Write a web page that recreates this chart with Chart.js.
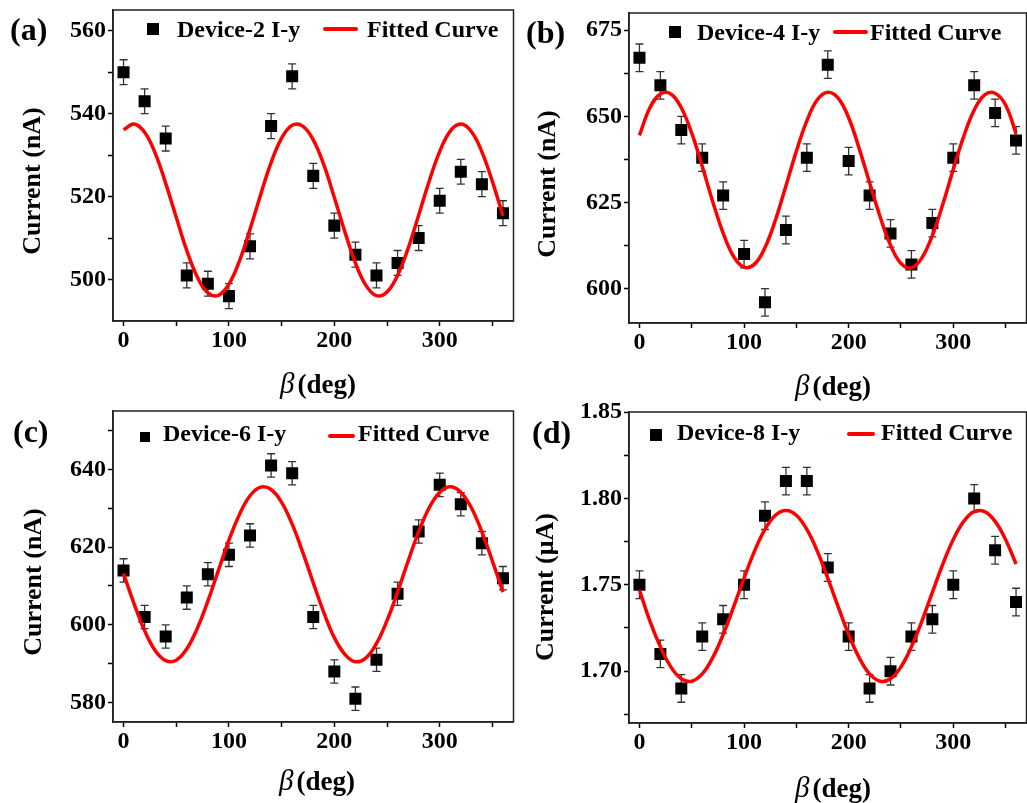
<!DOCTYPE html>
<html><head><meta charset="utf-8">
<script src="https://cdn.jsdelivr.net/npm/chart.js@4.4.0/dist/chart.umd.min.js"></script>
<style>
html,body{margin:0;padding:0;background:#fff;width:1027px;height:803px;overflow:hidden;position:relative;}
canvas{position:absolute;}
.t{position:absolute;font-family:'Liberation Serif','Times New Roman',serif;font-weight:bold;color:#000;white-space:nowrap;line-height:1;}
.l{transform:translate(0,-50%);font-size:24px;}
.p{transform:translate(0,-50%);font-size:32px;}
.xt{transform:translate(-50%,-50%);font-size:27px;}
.xt i{font-weight:normal;font-size:29px;margin-right:3px;}
.yt{transform:translate(-50%,-50%) rotate(-90deg);font-size:26px;}
.sq{position:absolute;background:#000;}
.ln{position:absolute;background:#f00;height:4px;border-radius:2px;}
</style></head><body>
<canvas id="ca" width="522" height="400" style="left:0;top:0"></canvas>
<canvas id="cb" width="520" height="400" style="left:515px;top:0"></canvas>
<canvas id="cc" width="522" height="405" style="left:0;top:398px"></canvas>
<canvas id="cd" width="520" height="408" style="left:515px;top:395px"></canvas>

<div class="t p" style="left:10px;top:29px">(a)</div>
<div class="t p" style="left:526px;top:32px">(b)</div>
<div class="t p" style="left:13px;top:431px">(c)</div>
<div class="t p" style="left:532px;top:432px">(d)</div>

<div class="sq" style="left:147px;top:23px;width:12px;height:12px"></div>
<div class="t l" style="left:177px;top:29px">Device-2 I-y</div>
<div class="ln" style="left:323px;top:27px;width:35px"></div>
<div class="t l" style="left:367px;top:29px">Fitted Curve</div>

<div class="sq" style="left:669px;top:26px;width:12px;height:12px"></div>
<div class="t l" style="left:697px;top:32px">Device-4 I-y</div>
<div class="ln" style="left:833px;top:30px;width:35px"></div>
<div class="t l" style="left:870px;top:32px">Fitted Curve</div>

<div class="sq" style="left:140px;top:432px;width:10px;height:10px"></div>
<div class="t l" style="left:163px;top:433px">Device-6 I-y</div>
<div class="ln" style="left:328px;top:434px;width:27px"></div>
<div class="t l" style="left:358px;top:433px">Fitted Curve</div>

<div class="sq" style="left:650px;top:429px;width:12px;height:12px"></div>
<div class="t l" style="left:677px;top:432px">Device-8 I-y</div>
<div class="ln" style="left:847px;top:432px;width:28px"></div>
<div class="t l" style="left:881px;top:432px">Fitted Curve</div>

<div class="t yt" style="left:32px;top:181px">Current (nA)</div>
<div class="t yt" style="left:547px;top:184px">Current (nA)</div>
<div class="t yt" style="left:33px;top:582px">Current (nA)</div>
<div class="t yt" style="left:545px;top:587px">Current (μA)</div>

<div class="t xt" style="left:318px;top:383px"><i>β</i>(deg)</div>
<div class="t xt" style="left:833px;top:385px"><i>β</i>(deg)</div>
<div class="t xt" style="left:317px;top:780px"><i>β</i>(deg)</div>
<div class="t xt" style="left:833px;top:787px"><i>β</i>(deg)</div>

<script>
// ---- data ----
const angles = [0,20,40,60,80,100,120,140,160,180,200,220,240,260,280,300,320,340,360];
const fitAngles = [0,10,20,30,40,50,60,70,80,90,100,110,120,130,140,150,160,170,180,190,200,210,220,230,240,250,260,270,280,290,300,310,320,330,340,350,360];

const deviceA = [550,543,534,501,499,496,508,537,549,525,513,506,501,504,510,519,526,523,516];
const errorA  = [3,3,3,3,3,3,3,3,3,3,3,3,3,3,3,3,3,3,3];
const fitA = [536.1,537.5,535.5,530.5,523.2,515.0,507.0,500.6,496.8,496.2,498.9,504.5,512.1,520.4,528.2,534.1,537.2,537.0,533.7,527.7,519.8,511.5,504.0,498.6,496.1,497.0,501.0,507.5,515.5,523.7,530.9,535.8,537.5,535.7,530.8,523.6,515.4];

const deviceB = [667,659,646,638,627,610,596,617,638,665,637,627,616,607,619,638,659,651,643];
const errorB  = [4,4,4,4,4,4,4,4,4,4,4,4,4,4,4,4,4,4,4];
const fitB = [644.5,652.5,656.5,656.5,652.5,645.1,635.5,625.3,616.1,609.3,606.2,607.1,611.9,619.9,629.8,639.9,648.7,654.8,657.0,655.3,649.6,640.7,630.7,620.9,612.6,607.3,606.0,608.9,615.4,624.5,634.6,644.2,651.8,656.2,656.7,653.3,645.0];

const deviceC = [614,602,597,607,613,618,623,641,639,602,588,581,591,608,624,636,631,621,612];
const errorC  = [3,3,3,3,3,3,3,3,3,3,3,3,3,3,3,3,3,3,3];
const fitC = [613.2,605.4,598.5,593.4,590.8,590.9,593.8,599.1,606.1,614.0,621.8,628.4,633.2,635.4,634.8,631.5,625.9,618.7,610.8,603.2,596.7,592.4,590.5,591.5,595.2,601.1,608.4,616.4,623.9,630.1,634.1,635.5,634.1,630.1,623.9,616.4,608.4];

const deviceD = [1.75,1.71,1.69,1.72,1.73,1.75,1.79,1.81,1.81,1.76,1.72,1.69,1.70,1.72,1.73,1.75,1.80,1.77,1.74];
const errorD  = [0.008,0.008,0.008,0.008,0.008,0.008,0.008,0.008,0.008,0.008,0.008,0.008,0.008,0.008,0.008,0.008,0.008,0.008,0.008];
const fitD = [1.7470,1.7290,1.7141,1.7025,1.6956,1.6942,1.6984,1.7078,1.7212,1.7372,1.7539,1.7695,1.7820,1.7902,1.7930,1.7902,1.7820,1.7695,1.7539,1.7372,1.7212,1.7078,1.6984,1.6942,1.6956,1.7025,1.7141,1.7290,1.7456,1.7620,1.7762,1.7867,1.7923,1.7923,1.7867,1.7762,1.7620];

const xTicks = [0,50,100,150,200,250,300,350];
const xMajor = [0,100,200,300];
const yTicksA = [500,510,520,530,540,550,560];   const yMajorA = [500,520,540,560];
const yTicksB = [600,612.5,625,637.5,650,662.5,675]; const yMajorB = [600,625,650,675];
const yTicksC = [580,590,600,610,620,630,640,650]; const yMajorC = [580,600,620,640];
const yTicksD = [1.675,1.70,1.725,1.75,1.775,1.80,1.825,1.85]; const yMajorD = [1.70,1.75,1.80,1.85];

// ---- drawing ----
const FONT = {family:"'Liberation Serif','Times New Roman',serif", size:24, weight:'bold'};

const framePlugin = {
  id:'frame',
  afterDatasetsDraw(chart){
    const a = chart.chartArea, ctx = chart.ctx;
    ctx.save(); ctx.strokeStyle = '#222'; ctx.lineWidth = 1.5;
    ctx.strokeRect(a.left, a.top, a.right - a.left, a.bottom - a.top);
    ctx.restore();
  }
};
const errorBarPlugin = {
  id:'errbars',
  beforeDatasetsDraw(chart){
    const ctx = chart.ctx, xs = chart.scales.x, ys = chart.scales.y;
    chart.data.datasets.forEach(ds => {
      if (!ds.errorBars) return;
      ctx.save(); ctx.strokeStyle = '#333'; ctx.lineWidth = 1.3;
      ds.data.forEach((p, i) => {
        const e = ds.errorBars[i];
        const px = xs.getPixelForValue(p.x);
        const y1 = ys.getPixelForValue(p.y - e), y2 = ys.getPixelForValue(p.y + e);
        ctx.beginPath();
        ctx.moveTo(px, y1); ctx.lineTo(px, y2);
        ctx.moveTo(px - 4, y1); ctx.lineTo(px + 4, y1);
        ctx.moveTo(px - 4, y2); ctx.lineTo(px + 4, y2);
        ctx.stroke();
      });
      ctx.restore();
    });
  }
};

function near(list, v){ return list.some(m => Math.abs(m - v) < 1e-6); }

function makePanel(p){
  new Chart(document.getElementById(p.id), {
    type:'scatter',
    data:{datasets:[
      {type:'scatter', data: angles.map((a,i)=>({x:a, y:p.values[i]})), errorBars:p.errors,
       pointStyle:'rect', pointRadius:8.5, pointHoverRadius:8.5, backgroundColor:'#000', borderColor:'#000', borderWidth:0, order:2},
      {type:'line', data: fitAngles.map((a,i)=>({x:a, y:p.fit[i]})),
       borderColor:'#ff0000', borderWidth:3.5, pointRadius:0, tension:0.4, fill:false, order:1}
    ]},
    options:{
      responsive:false, animation:false, devicePixelRatio:1,
      layout:{padding:{left:0, top:p.padTop, right:p.padRight, bottom:0}},
      plugins:{legend:{display:false}, tooltip:{enabled:false}},
      scales:{
        x:{type:'linear', min:-10, max:370,
           afterBuildTicks:s=>{ s.ticks = xTicks.map(v=>({value:v})); },
           afterFit:s=>{ s.height = p.xH; s.paddingLeft = 0; s.paddingRight = 0; },
           ticks:{callback:v=> near(xMajor, v) ? String(v) : '', font:FONT, color:'#000', padding:0, maxRotation:0, autoSkip:false},
           grid:{drawOnChartArea:false, drawTicks:true, tickLength:5, tickColor:'#000', tickWidth:1.5},
           border:{display:true, color:'#222', width:1.5}},
        y:{type:'linear', min:p.yMin, max:p.yMax,
           afterBuildTicks:s=>{ s.ticks = p.yTicks.map(v=>({value:v})); },
           afterFit:s=>{ s.width = p.yW; s.paddingTop = 0; s.paddingBottom = 0; },
           ticks:{callback:v=> near(p.yMajor, v) ? v.toFixed(p.dec) : '', font:FONT, color:'#000', padding:2, autoSkip:false},
           grid:{drawOnChartArea:false, drawTicks:true, tickLength:5, tickColor:'#000', tickWidth:1.5},
           border:{display:true, color:'#222', width:1.5}}
      }
    },
    plugins:[errorBarPlugin, framePlugin]
  });
}

makePanel({id:'ca', values:deviceA, errors:errorA, fit:fitA, yMin:490, yMax:565, yTicks:yTicksA, yMajor:yMajorA, dec:0, yW:113, xH:79, padTop:10, padRight:5});
makePanel({id:'cb', values:deviceB, errors:errorB, fit:fitB, yMin:590, yMax:680, yTicks:yTicksB, yMajor:yMajorB, dec:0, yW:114, xH:77, padTop:13, padRight:3});
makePanel({id:'cc', values:deviceC, errors:errorC, fit:fitC, yMin:575, yMax:655, yTicks:yTicksC, yMajor:yMajorC, dec:0, yW:113, xH:81, padTop:13, padRight:5});
makePanel({id:'cd', values:deviceD, errors:errorD, fit:fitD, yMin:1.67, yMax:1.85, yTicks:yTicksD, yMajor:yMajorD, dec:2, yW:114, xH:80, padTop:17, padRight:3});
</script>
</body></html>
